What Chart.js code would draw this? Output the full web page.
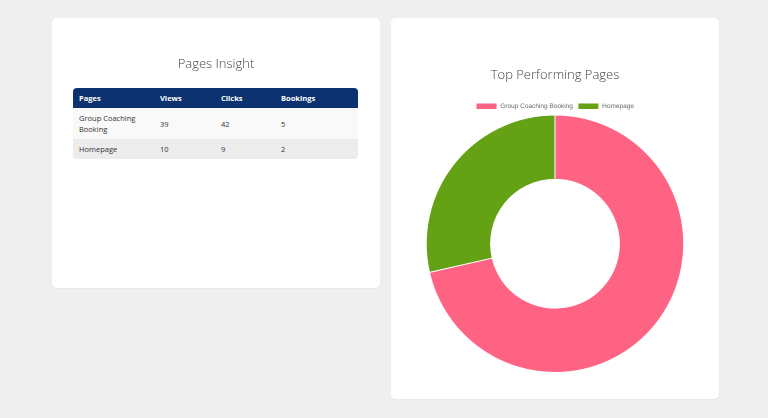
<!DOCTYPE html>
<html lang="en">
<head>
    <meta charset="UTF-8">
    <title>Pages Insight</title>
    <script src="https://cdn.jsdelivr.net/npm/chart.js"></script>
    <style>
        body {
            margin: 0;
            padding: 0;
            background-color: #efefef;
            overflow: hidden;
            font-family: "Open Sans", Arial, sans-serif;
        }

        /* page is laid out at 2x and shrunk to fit the window */
        #page {
            position: absolute;
            left: 0;
            top: 0;
            width: 1536px;
            height: 836px;
            transform: scale(0.5);
            transform-origin: 0 0;
        }

        .card {
            position: absolute;
            top: 36px;
            width: 656px;
            background-color: #fff;
            border-radius: 10px;
            box-shadow: 0 2px 4px rgba(0, 0, 0, 0.04);
        }

        #insight-card {
            left: 104px;
            height: 540px;
        }

        #chart-card {
            left: 782px;
            height: 762px;
        }

        .card h2 {
            position: absolute;
            left: 0;
            width: 100%;
            margin: 0;
            text-align: center;
            font-weight: 300;
            font-size: 26px;
            line-height: 40px;
            color: #444;
        }

        #insight-card h2 { top: 70px; }
        #chart-card h2 { top: 92px; }

        #insight-table {
            position: absolute;
            left: 42px;
            top: 140px;
            width: 570px;
            border-collapse: collapse;
            border-radius: 8px;
            overflow: hidden;
            font-size: 15px;
            color: #333;
            table-layout: fixed;
        }

        #insight-table th {
            background-color: #0c3370;
            color: #fff;
            text-align: left;
            font-weight: 700;
            height: 40px;
            padding: 0 12px;
        }

        #insight-table td {
            padding: 9px 12px;
            line-height: 22px;
        }

        #insight-table tbody tr:nth-child(odd) { background-color: #f9f9f9; }
        #insight-table tbody tr:nth-child(even) { background-color: #ececec; }

        #chart-box {
            position: absolute;
            left: 28px;
            top: 160px;
            width: 600px;
            height: 550px;
        }
    </style>
</head>
<body>
    <div id="page">
        <div class="card" id="insight-card">
            <h2>Pages Insight</h2>
            <table id="insight-table">
                <colgroup>
                    <col style="width: 162px">
                    <col style="width: 122px">
                    <col style="width: 120px">
                    <col style="width: 166px">
                </colgroup>
                <thead>
                    <tr><th>Pages</th><th>Views</th><th>Clicks</th><th>Bookings</th></tr>
                </thead>
                <tbody id="insight-body"></tbody>
            </table>
        </div>
        <div class="card" id="chart-card">
            <h2>Top Performing Pages</h2>
            <div id="chart-box">
                <canvas id="topPagesChart"></canvas>
            </div>
        </div>
    </div>
    <script>
        var pages = ['Group Coaching Booking', 'Homepage'];
        var views = [39, 10];
        var clicks = [42, 9];
        var bookings = [5, 2];
        var sliceColors = ['#ff6384', '#64a115'];

        document.addEventListener('DOMContentLoaded', function () {
            var body = document.getElementById('insight-body');
            pages.forEach(function (page, i) {
                var row = document.createElement('tr');
                [page, views[i], clicks[i], bookings[i]].forEach(function (val) {
                    var cell = document.createElement('td');
                    cell.textContent = val;
                    row.appendChild(cell);
                });
                body.appendChild(row);
            });

            var ctx = document.getElementById('topPagesChart').getContext('2d');
            new Chart(ctx, {
                type: 'doughnut',
                data: {
                    labels: pages,
                    datasets: [{
                        data: bookings,
                        backgroundColor: sliceColors,
                        borderColor: '#fff',
                        borderWidth: 2
                    }]
                },
                options: {
                    responsive: true,
                    maintainAspectRatio: false,
                    animation: false,
                    plugins: {
                        legend: {
                            position: 'top',
                            labels: {
                                boxWidth: 42,
                                font: { size: 13 }
                            }
                        }
                    }
                }
            });
        });
    </script>
</body>
</html>
